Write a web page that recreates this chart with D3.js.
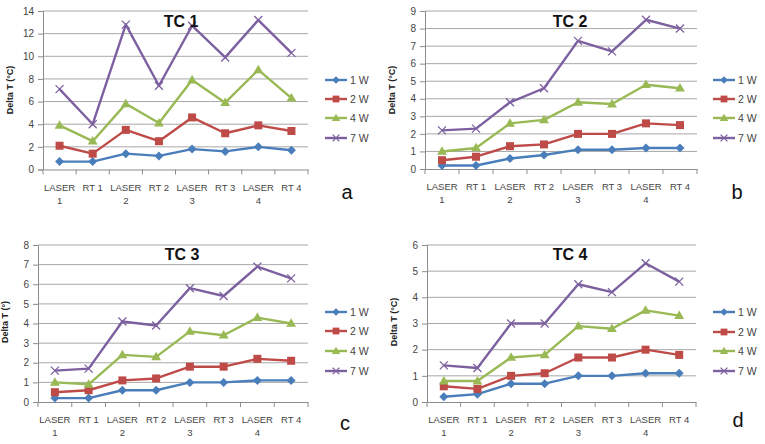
<!DOCTYPE html>
<html><head><meta charset="utf-8">
<script src="https://cdn.jsdelivr.net/npm/d3@7"></script>
<style>body{margin:0;background:#fff}svg{display:block}</style>
</head><body>
<svg id="c" width="765" height="444"></svg>
<script>
const categories = ["LASER 1","RT 1","LASER 2","RT 2","LASER 3","RT 3","LASER 4","RT 4"];
const seriesNames = ["1 W","2 W","4 W","7 W"];
const titles = ["TC 1","TC 2","TC 3","TC 4"];
const panelLetters = ["a","b","c","d"];
const yLabels = ["Delta T (°C)","Delta T (°C)","Delta T (°)","Delta T (°C)"];
const yMax = [14, 9, 8, 6];
const yStep = [2, 1, 1, 1];

const tc1_1W = [0.7,0.7,1.4,1.2,1.8,1.6,2.0,1.7];
const tc1_2W = [2.1,1.4,3.5,2.5,4.6,3.2,3.9,3.4];
const tc1_4W = [3.9,2.5,5.8,4.1,7.9,5.9,8.8,6.3];
const tc1_7W = [7.1,4.0,12.8,7.4,12.7,9.9,13.2,10.3];

const tc2_1W = [0.2,0.2,0.6,0.8,1.1,1.1,1.2,1.2];
const tc2_2W = [0.5,0.7,1.3,1.4,2.0,2.0,2.6,2.5];
const tc2_4W = [1.0,1.2,2.6,2.8,3.8,3.7,4.8,4.6];
const tc2_7W = [2.2,2.3,3.8,4.6,7.3,6.7,8.5,8.0];

const tc3_1W = [0.2,0.2,0.6,0.6,1.0,1.0,1.1,1.1];
const tc3_2W = [0.5,0.6,1.1,1.2,1.8,1.8,2.2,2.1];
const tc3_4W = [1.0,0.9,2.4,2.3,3.6,3.4,4.3,4.0];
const tc3_7W = [1.6,1.7,4.1,3.9,5.8,5.4,6.9,6.3];

const tc4_1W = [0.2,0.3,0.7,0.7,1.0,1.0,1.1,1.1];
const tc4_2W = [0.6,0.5,1.0,1.1,1.7,1.7,2.0,1.8];
const tc4_4W = [0.8,0.8,1.7,1.8,2.9,2.8,3.5,3.3];
const tc4_7W = [1.4,1.3,3.0,3.0,4.5,4.2,5.3,4.6];

const panelData = [
  [tc1_1W,tc1_2W,tc1_4W,tc1_7W],
  [tc2_1W,tc2_2W,tc2_4W,tc2_7W],
  [tc3_1W,tc3_2W,tc3_4W,tc3_7W],
  [tc4_1W,tc4_2W,tc4_4W,tc4_7W]
];

const colors = ["#4a7ebb","#be4b48","#98b954","#7d60a0"];
const markers = ["diamond","square","triangle","x"];

const layout = [
  {x0:43, x1:308, yTop:11, yBot:169.5, legX:325, legY:[80,99,118,138], titleX:181, titleY:27, letX:347, letY:199, labY:90},
  {x0:425, x1:697, yTop:11, yBot:169, legX:713, legY:[80,99,118,138], titleX:570, titleY:27, letX:737, letY:199, labY:90},
  {x0:38, x1:308, yTop:245, yBot:402, legX:325, legY:[312,331,351,371], titleX:182, titleY:260, letX:345, letY:430, labY:322},
  {x0:427, x1:696, yTop:245, yBot:402, legX:713, legY:[312,332,351,371], titleX:570, titleY:260, letX:738, letY:427, labY:322}
];

const svg = d3.select("#c");
const gridColor = "#a8a8a8", axisColor = "#8c8c8c", textColor = "#444";

function drawMarker(g, type, x, y, color, k){
  k = k || 1;
  if(type==="diamond"){
    const r = 4.5 * k;
    g.append("path").attr("d", `M${x},${y-r}L${x+r},${y}L${x},${y+r}L${x-r},${y}Z`).attr("fill",color);
  } else if(type==="square"){
    const r = 4 * k;
    g.append("rect").attr("x",x-r).attr("y",y-r).attr("width",2*r).attr("height",2*r).attr("fill",color);
  } else if(type==="triangle"){
    g.append("path").attr("d", d3.symbol(d3.symbolTriangle, 42 * k * k)()).attr("transform",`translate(${x},${y+0.5})`).attr("fill",color);
  } else {
    const r = 4 * k;
    g.append("path").attr("d",`M${x-r},${y-r}L${x+r},${y+r}M${x-r},${y+r}L${x+r},${y-r}`).attr("stroke",color).attr("stroke-width",1.3).attr("fill","none");
  }
}

layout.forEach((L, p) => {
  const g = svg.append("g");
  const x = d3.scaleBand().domain(categories).range([L.x0, L.x1]).padding(0);
  const y = d3.scaleLinear().domain([0, yMax[p]]).range([L.yBot, L.yTop]);
  const ticks = d3.range(0, yMax[p] + 0.001, yStep[p]);

  g.append("g").selectAll("line").data(ticks.filter(t => t > 0)).join("line")
    .attr("x1", L.x0).attr("x2", L.x1).attr("y1", d => y(d)).attr("y2", d => y(d))
    .attr("stroke", gridColor).attr("stroke-width", 1);

  const ya = g.append("g").attr("transform", `translate(${L.x0},0)`)
    .call(d3.axisLeft(y).tickValues(ticks).tickSize(5).tickPadding(4).tickFormat(d3.format("d")));
  ya.select(".domain").attr("stroke", axisColor);
  ya.selectAll(".tick line").attr("stroke", axisColor);
  ya.selectAll("text").attr("fill", textColor).style("font-family", "Liberation Sans, Arial, sans-serif").style("font-size", "10px");

  const xa = g.append("g").attr("transform", `translate(0,${L.yBot})`)
    .call(d3.axisBottom(x).tickSize(0).tickFormat(""));
  xa.select(".domain").attr("stroke", axisColor);
  g.append("g").selectAll("line").data(d3.range(categories.length + 1)).join("line")
    .attr("x1", i => L.x0 + i * x.bandwidth()).attr("x2", i => L.x0 + i * x.bandwidth())
    .attr("y1", L.yBot).attr("y2", L.yBot + 5).attr("stroke", axisColor);
  categories.forEach(c => {
    const parts = c.startsWith("LASER") ? c.split(" ") : [c];
    const t = g.append("text").attr("x", x(c) + x.bandwidth() / 2).attr("y", L.yBot + 21)
      .attr("text-anchor", "middle").attr("fill", textColor)
      .style("font-family", "Liberation Sans, Arial, sans-serif").style("font-size", "9.5px");
    parts.forEach((s, i) => t.append("tspan").attr("x", x(c) + x.bandwidth() / 2).attr("dy", i ? 13 : 0).text(s));
  });

  g.append("text").attr("transform", `translate(${L.x0 - 30},${L.labY}) rotate(-90)`)
    .attr("text-anchor", "middle").attr("fill", "#222")
    .style("font-family", "Liberation Sans, Arial, sans-serif").style("font-size", "9px").style("font-weight", "bold")
    .text(yLabels[p]);

  const line = d3.line().x((d, i) => x(categories[i]) + x.bandwidth() / 2).y(d => y(d));
  panelData[p].forEach((vals, s) => {
    g.append("path").datum(vals).attr("d", line).attr("fill", "none")
      .attr("stroke", colors[s]).attr("stroke-width", 2.4).attr("stroke-linejoin", "round");
    vals.forEach((v, i) => drawMarker(g, markers[s], x(categories[i]) + x.bandwidth() / 2, y(v), colors[s]));
  });

  g.append("text").attr("x", L.titleX).attr("y", L.titleY).attr("text-anchor", "middle")
    .attr("fill", "#111").style("font-family", "Liberation Sans, Arial, sans-serif")
    .style("font-size", "16px").style("font-weight", "bold").text(titles[p]);

  seriesNames.forEach((n, s) => {
    const ly = L.legY[s];
    g.append("line").attr("x1", L.legX).attr("x2", L.legX + 22).attr("y1", ly).attr("y2", ly)
      .attr("stroke", colors[s]).attr("stroke-width", 2.4);
    drawMarker(g, markers[s], L.legX + 11, ly, colors[s], 0.85);
    g.append("text").attr("x", L.legX + 25).attr("y", ly + 4).attr("fill", textColor)
      .style("font-family", "Liberation Sans, Arial, sans-serif").style("font-size", "10.5px").text(n);
  });

  g.append("text").attr("x", L.letX).attr("y", L.letY).attr("text-anchor", "middle").attr("fill", "#111")
    .style("font-family", "Liberation Sans, Arial, sans-serif").style("font-size", "20px").text(panelLetters[p]);
});
</script>
</body></html>
